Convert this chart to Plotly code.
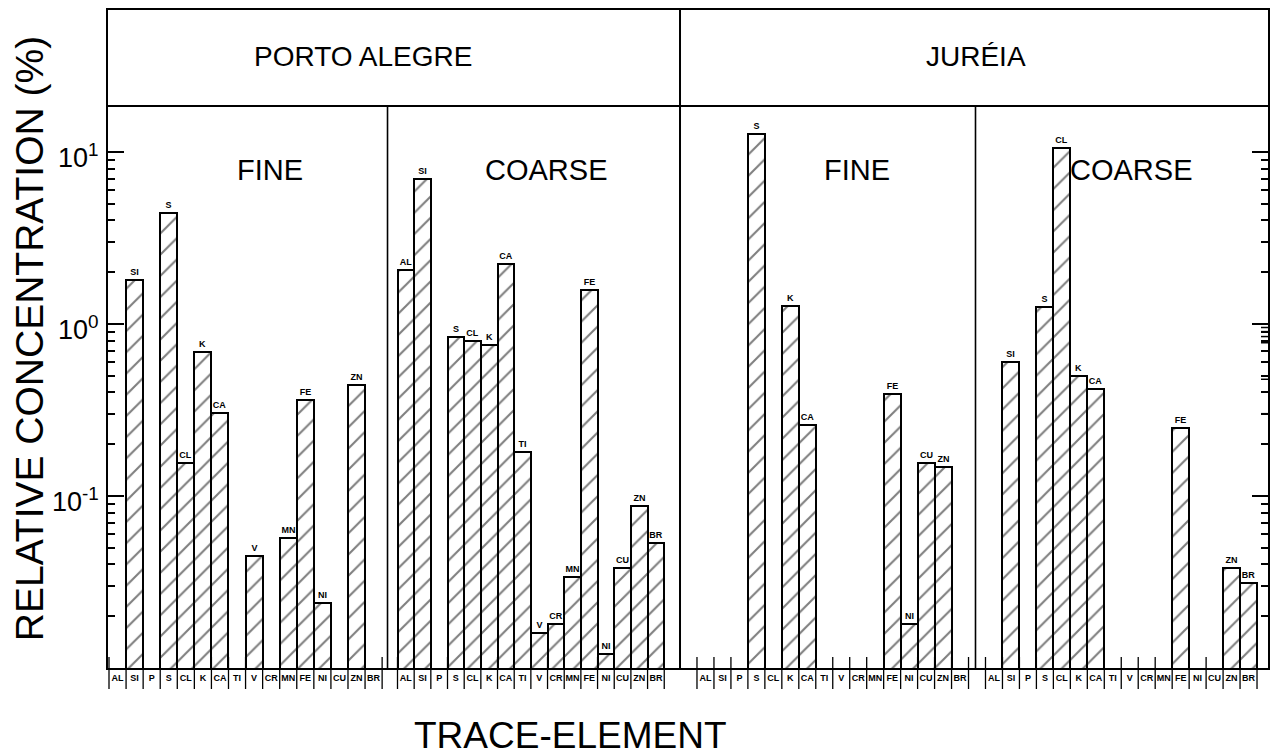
import math
import plotly.graph_objects as go

# ---------------- data ----------------
elements = ["AL", "SI", "P", "S", "CL", "K", "CA", "TI", "V", "CR", "MN", "FE", "NI", "CU", "ZN", "BR"]

porto_fine = [None, 1.80, None, 4.4, 0.155, 0.69, 0.303, None, 0.045, None, 0.057, 0.36, 0.024, None, 0.44, None]
porto_coarse = [2.06, 7.0, None, 0.84, 0.80, 0.76, 2.23, 0.18, 0.016, 0.018, 0.034, 1.58, 0.012, 0.038, 0.087, 0.053]
jureia_fine = [None, None, None, 12.8, None, 1.27, 0.26, None, None, None, None, 0.39, 0.018, 0.155, 0.148, None]
jureia_coarse = [None, 0.60, None, 1.26, 10.6, 0.50, 0.42, None, None, None, None, 0.25, None, None, 0.038, 0.031]

site_labels = ["PORTO ALEGRE", "JURÉIA"]
fraction_labels = ["FINE", "COARSE", "FINE", "COARSE"]
decade_labels = ["10<sup>-1</sup>", "10<sup>0</sup>", "10<sup>1</sup>"]
decade_values = [0.1, 1, 10]
y_title = "RELATIVE CONCENTRATION (%)"
x_title = "TRACE-ELEMENT"

# ---------------- layout constants (pixel frame) ----------------
W, H = 1274, 756
L, R, T, B = 108, 4, 10, 88
X0, X1 = L, W - R
Y_TOP, Y_BOT = T, H - B
PLOT_H = Y_BOT - Y_TOP
PLOT_W = X1 - X0
DEC_PX = 172.0
Y_MIN_LOG = -2
Y_MAX_LOG = Y_MIN_LOG + PLOT_H / DEC_PX

FONT = "Liberation Sans"

panels = [
    (porto_fine, 109.0, 17.1),
    (porto_coarse, 398.0, 16.7),
    (jureia_fine, 698.0, 17.0),
    (jureia_coarse, 987.0, 17.0),
]


def py(y):
    return (Y_BOT - y) / PLOT_H


def px(x):
    return (x - X0) / PLOT_W


fig = go.Figure()

tickvals, ticktext = [], []
shapes = []
for values, start, w in panels:
    xs_all = [start + (i + 0.5) * w for i in range(len(elements))]
    tickvals += xs_all
    ticktext += elements
    keep = [i for i, v in enumerate(values) if v is not None]
    fig.add_trace(go.Bar(
        x=[xs_all[i] for i in keep], y=[values[i] for i in keep], width=w,
        text=["<b>" + elements[i] + "</b>" for i in keep],
        textposition="outside", constraintext="none", cliponaxis=False,
        textfont=dict(family=FONT, size=9, color="black"),
        marker=dict(color="white", line=dict(color="black", width=2),
                    pattern=dict(shape="/", fgcolor="black", bgcolor="white", size=15, solidity=0.14)),
        hoverinfo="skip",
    ))
    # separators of the element-label boxes
    for k in range(len(elements) + 1):
        xk = start + k * w
        shapes.append(dict(type="line", xref="x", yref="paper", x0=xk, x1=xk,
                           y0=py(657), y1=py(689), line=dict(color="black", width=1.3)))

# minor ticks on the right frame
minor_vals = [m * d for d in (0.01, 0.1, 1) for m in range(2, 10)]
for v in minor_vals:
    lv = math.log10(v)
    shapes.append(dict(type="line", xref="paper", yref="y", x0=1, x1=1 - 7 / PLOT_W, y0=lv, y1=lv,
                       line=dict(color="black", width=1.5)))

# header line and panel dividers
shapes.append(dict(type="line", xref="paper", yref="paper", x0=0, x1=1, y0=py(106), y1=py(106),
                   line=dict(color="black", width=2)))
shapes.append(dict(type="line", xref="x", yref="paper", x0=681, x1=681, y0=0, y1=1,
                   line=dict(color="black", width=2)))
for xd in (388, 977):
    shapes.append(dict(type="line", xref="x", yref="paper", x0=xd, x1=xd, y0=0, y1=py(106),
                       line=dict(color="black", width=1.6)))

annotations = []


def note(text, x, y, size, **kw):
    d = dict(text=text, xref="paper", yref="paper", x=px(x), y=py(y), xanchor="center",
             yanchor="middle", showarrow=False, font=dict(family=FONT, size=size, color="black"))
    d.update(kw)
    annotations.append(d)


for txt, xc in zip(site_labels, (363, 977)):
    note(txt, xc, 57, 28)
for txt, xc in zip(fraction_labels, (270, 547, 858, 1133)):
    note(txt, xc, 170, 29)
for txt, v in zip(decade_labels, decade_values):
    yv = Y_BOT - (math.log10(v) - Y_MIN_LOG) * DEC_PX
    note(txt, 101, yv + 4, 27, xanchor="right")
note(y_title, 29, 339, 39, textangle=-90)
note(x_title, 571, 735, 37)

fig.update_layout(
    width=W, height=H,
    margin=dict(l=L, r=R, t=T, b=B, pad=0),
    paper_bgcolor="white", plot_bgcolor="white",
    showlegend=False, barmode="overlay", bargap=0,
    shapes=shapes, annotations=annotations,
    xaxis=dict(range=[X0, X1], showline=True, linecolor="black", linewidth=2, mirror=True,
               showgrid=False, zeroline=False, ticks="", tickvals=tickvals, ticktext=ticktext,
               tickangle=0, tickfont=dict(family=FONT, size=9, color="black", weight="bold")),
    yaxis=dict(type="log", range=[Y_MIN_LOG, Y_MAX_LOG], showline=True, linecolor="black", linewidth=2,
               mirror="allticks", showgrid=False, zeroline=False, ticks="inside", ticklen=16,
               tickwidth=2, tickcolor="black", tickvals=decade_values, showticklabels=False,
               minor=dict(tickvals=minor_vals, ticks="inside", ticklen=7, tickwidth=1.5,
                          tickcolor="black", showgrid=False)),
)

fig.write_html("out.html", config={"displayModeBar": False},
               post_script="document.body.style.margin='0';")
